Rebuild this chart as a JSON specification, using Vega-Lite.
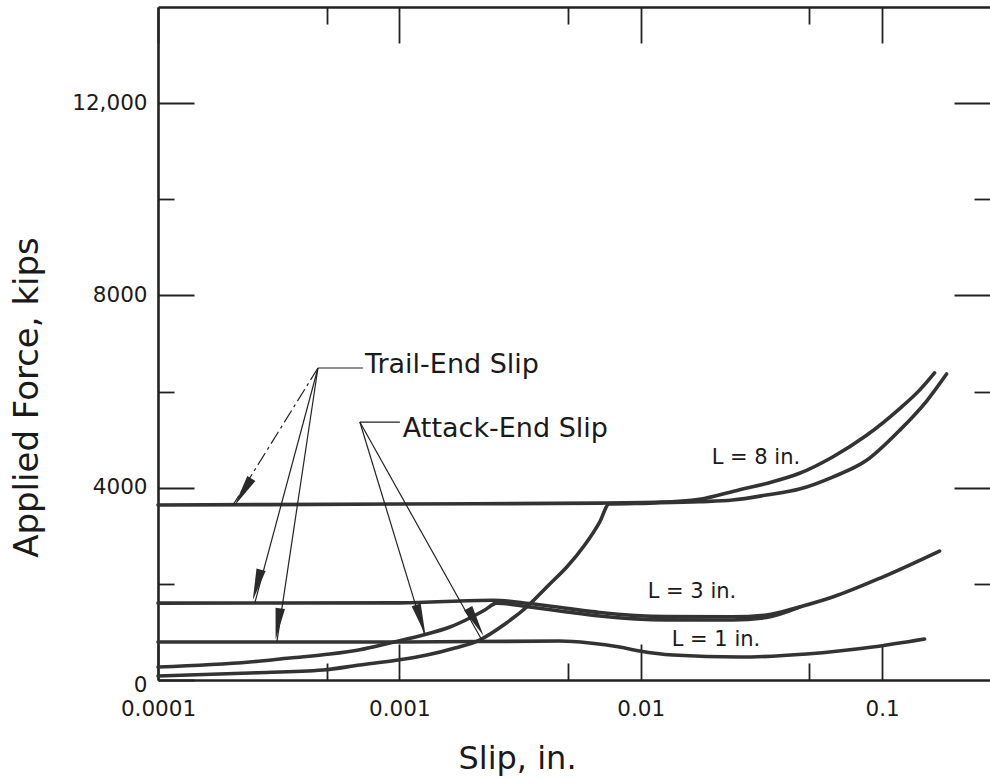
{
  "$schema": "https://vega.github.io/schema/vega-lite/v6.json",
  "width": 832,
  "height": 673,
  "autosize": {"type": "none"},
  "padding": {"left": 158, "top": 7, "right": 0, "bottom": 100},
  "background": "white",
  "config": {
    "view": {"stroke": null},
    "font": "DejaVu Sans",
    "axis": {
      "labelFont": "DejaVu Sans",
      "titleFont": "DejaVu Sans",
      "labelColor": "#1a1a1a",
      "titleColor": "#1a1a1a",
      "titleFontWeight": "normal",
      "tickColor": "#222",
      "tickWidth": 1.8,
      "domainColor": "#222",
      "domainWidth": 2.6,
      "grid": false,
      "labelOverlap": false,
      "labelFlush": false,
      "labelBound": false
    }
  },
  "datasets": {
    "curves": [
      {"series": "L = 8 in. trail", "slip": 0.0001, "force": 3640},
      {"series": "L = 8 in. trail", "slip": 0.001, "force": 3660},
      {"series": "L = 8 in. trail", "slip": 0.0068, "force": 3680},
      {"series": "L = 8 in. trail", "slip": 0.012, "force": 3700},
      {"series": "L = 8 in. trail", "slip": 0.0175, "force": 3760},
      {"series": "L = 8 in. trail", "slip": 0.0257, "force": 3960},
      {"series": "L = 8 in. trail", "slip": 0.0332, "force": 4090},
      {"series": "L = 8 in. trail", "slip": 0.0455, "force": 4300},
      {"series": "L = 8 in. trail", "slip": 0.0624, "force": 4640},
      {"series": "L = 8 in. trail", "slip": 0.0863, "force": 5090},
      {"series": "L = 8 in. trail", "slip": 0.118, "force": 5640},
      {"series": "L = 8 in. trail", "slip": 0.143, "force": 6030},
      {"series": "L = 8 in. trail", "slip": 0.165, "force": 6390},

      {"series": "L = 8 in. attack", "slip": 0.0001, "force": 83},
      {"series": "L = 8 in. attack", "slip": 0.00024, "force": 146},
      {"series": "L = 8 in. attack", "slip": 0.000482, "force": 208},
      {"series": "L = 8 in. attack", "slip": 0.000686, "force": 312},
      {"series": "L = 8 in. attack", "slip": 0.000986, "force": 416},
      {"series": "L = 8 in. attack", "slip": 0.0013, "force": 520},
      {"series": "L = 8 in. attack", "slip": 0.0017, "force": 666},
      {"series": "L = 8 in. attack", "slip": 0.00215, "force": 832},
      {"series": "L = 8 in. attack", "slip": 0.00274, "force": 1165},
      {"series": "L = 8 in. attack", "slip": 0.00337, "force": 1518},
      {"series": "L = 8 in. attack", "slip": 0.0042, "force": 1997},
      {"series": "L = 8 in. attack", "slip": 0.00494, "force": 2350},
      {"series": "L = 8 in. attack", "slip": 0.00586, "force": 2808},
      {"series": "L = 8 in. attack", "slip": 0.00676, "force": 3286},
      {"series": "L = 8 in. attack", "slip": 0.0074, "force": 3660},
      {"series": "L = 8 in. attack", "slip": 0.0109, "force": 3680},
      {"series": "L = 8 in. attack", "slip": 0.0175, "force": 3710},
      {"series": "L = 8 in. attack", "slip": 0.024, "force": 3744},
      {"series": "L = 8 in. attack", "slip": 0.0332, "force": 3848},
      {"series": "L = 8 in. attack", "slip": 0.0455, "force": 3973},
      {"series": "L = 8 in. attack", "slip": 0.0624, "force": 4222},
      {"series": "L = 8 in. attack", "slip": 0.0863, "force": 4570},
      {"series": "L = 8 in. attack", "slip": 0.118, "force": 5190},
      {"series": "L = 8 in. attack", "slip": 0.153, "force": 5803},
      {"series": "L = 8 in. attack", "slip": 0.185, "force": 6365},

      {"series": "L = 3 in. trail", "slip": 0.0001, "force": 1600},
      {"series": "L = 3 in. trail", "slip": 0.001, "force": 1605},
      {"series": "L = 3 in. trail", "slip": 0.00244, "force": 1660},
      {"series": "L = 3 in. trail", "slip": 0.00347, "force": 1590},
      {"series": "L = 3 in. trail", "slip": 0.00494, "force": 1490},
      {"series": "L = 3 in. trail", "slip": 0.00676, "force": 1405},
      {"series": "L = 3 in. trail", "slip": 0.0128, "force": 1320},
      {"series": "L = 3 in. trail", "slip": 0.024, "force": 1315},
      {"series": "L = 3 in. trail", "slip": 0.0332, "force": 1352},
      {"series": "L = 3 in. trail", "slip": 0.0455, "force": 1520},
      {"series": "L = 3 in. trail", "slip": 0.0624, "force": 1726},
      {"series": "L = 3 in. trail", "slip": 0.1005, "force": 2142},
      {"series": "L = 3 in. trail", "slip": 0.173, "force": 2683},

      {"series": "L = 3 in. attack", "slip": 0.0001, "force": 270},
      {"series": "L = 3 in. attack", "slip": 0.00024, "force": 374},
      {"series": "L = 3 in. attack", "slip": 0.000352, "force": 458},
      {"series": "L = 3 in. attack", "slip": 0.000516, "force": 540},
      {"series": "L = 3 in. attack", "slip": 0.000686, "force": 630},
      {"series": "L = 3 in. attack", "slip": 0.000913, "force": 770},
      {"series": "L = 3 in. attack", "slip": 0.0013, "force": 957},
      {"series": "L = 3 in. attack", "slip": 0.00162, "force": 1102},
      {"series": "L = 3 in. attack", "slip": 0.00196, "force": 1290},
      {"series": "L = 3 in. attack", "slip": 0.00226, "force": 1456},
      {"series": "L = 3 in. attack", "slip": 0.00253, "force": 1600},
      {"series": "L = 3 in. attack", "slip": 0.00347, "force": 1518},
      {"series": "L = 3 in. attack", "slip": 0.00494, "force": 1414},
      {"series": "L = 3 in. attack", "slip": 0.00676, "force": 1331},
      {"series": "L = 3 in. attack", "slip": 0.0128, "force": 1250},
      {"series": "L = 3 in. attack", "slip": 0.024, "force": 1248},
      {"series": "L = 3 in. attack", "slip": 0.0332, "force": 1300},
      {"series": "L = 3 in. attack", "slip": 0.0455, "force": 1515},

      {"series": "L = 1 in. trail", "slip": 0.0001, "force": 790},
      {"series": "L = 1 in. trail", "slip": 0.001, "force": 790},
      {"series": "L = 1 in. trail", "slip": 0.00462, "force": 811},
      {"series": "L = 1 in. trail", "slip": 0.00615, "force": 770},
      {"series": "L = 1 in. trail", "slip": 0.00818, "force": 686},
      {"series": "L = 1 in. trail", "slip": 0.0099, "force": 603},
      {"series": "L = 1 in. trail", "slip": 0.0136, "force": 520},
      {"series": "L = 1 in. trail", "slip": 0.0257, "force": 478},
      {"series": "L = 1 in. trail", "slip": 0.0487, "force": 541},
      {"series": "L = 1 in. trail", "slip": 0.0913, "force": 686},
      {"series": "L = 1 in. trail", "slip": 0.15, "force": 853}
    ],
    "leaders": [
      {"leader": "Trail-End Slip underline", "slip": 0.00046, "force": 6490, "slip2": 0.000706, "force2": 6490},
      {"leader": "trail to L = 3 in.", "slip": 0.00046, "force": 6490, "slip2": 0.000252, "force2": 1610},
      {"leader": "trail to L = 1 in.", "slip": 0.00046, "force": 6490, "slip2": 0.000311, "force2": 800},
      {"leader": "Attack-End Slip underline", "slip": 0.000686, "force": 5366, "slip2": 0.001005, "force2": 5366},
      {"leader": "attack to L = 3 in.", "slip": 0.000686, "force": 5366, "slip2": 0.00127, "force2": 960},
      {"leader": "attack to L = 8 in.", "slip": 0.000686, "force": 5366, "slip2": 0.002196, "force2": 832}
    ],
    "dashedLeaders": [
      {"leader": "trail to L = 8 in.", "slip": 0.00046, "force": 6490, "slip2": 0.0002045, "force2": 3640}
    ],
    "heads": [
      {"arrow": "trail to L = 8 in.", "slip": 0.000225, "force": 3910},
      {"arrow": "trail to L = 3 in.", "slip": 0.000257, "force": 1976},
      {"arrow": "trail to L = 1 in.", "slip": 0.000314, "force": 1165},
      {"arrow": "attack to L = 3 in.", "slip": 0.001227, "force": 1248},
      {"arrow": "attack to L = 8 in.", "slip": 0.002074, "force": 1206}
    ],
    "notes": [
      {"text": "Trail-End Slip", "slip": 0.00072, "force": 6386},
      {"text": "Attack-End Slip", "slip": 0.001034, "force": 5054}
    ],
    "curveLabels": [
      {"text": "L = 8 in.", "slip": 0.01968, "force": 4493},
      {"text": "L = 3 in.", "slip": 0.01069, "force": 1706},
      {"text": "L = 1 in.", "slip": 0.01344, "force": 707}
    ]
  },
  "resolve": {"axis": {"x": "independent", "y": "independent"}},
  "layer": [
    {
      "data": {"name": "curves"},
      "mark": {"type": "line", "color": "#333", "strokeWidth": 3.6, "interpolate": "monotone", "strokeCap": "round"},
      "encoding": {
        "x": {
          "field": "slip", "type": "quantitative",
          "scale": {"type": "log", "domain": [0.0001, 0.28], "nice": false},
          "axis": {
            "orient": "bottom",
            "values": [0.0001, 0.0005, 0.001, 0.005, 0.01, 0.05, 0.1],
            "format": "~g",
            "labelExpr": "indexof([0.0001, 0.001, 0.01, 0.1], datum.value) >= 0 ? datum.label : ''",
            "tickSize": {"condition": {"test": "indexof([0.0001, 0.001, 0.01, 0.1], datum.value) >= 0", "value": -36}, "value": -17},
            "labelFontSize": 21.5,
            "labelPadding": 54,
            "title": "Slip, in.",
            "titleFontSize": 32,
            "titleX": 359,
            "titleY": 88,
            "titleAlign": "center",
            "titleBaseline": "alphabetic"
          }
        },
        "y": {
          "field": "force", "type": "quantitative",
          "scale": {"domain": [0, 14000], "nice": false},
          "axis": {
            "orient": "left",
            "values": [0, 2000, 4000, 6000, 8000, 10000, 12000],
            "labelExpr": "datum.value == 12000 ? '12,000' : (datum.value % 4000 == 0 ? toString(datum.value) : '')",
            "tickSize": {"condition": {"test": "datum.value % 4000 == 0", "value": -36}, "value": -16},
            "labelFontSize": 21.5,
            "labelPadding": 47,
            "labelOffset": {"condition": {"test": "datum.value == 0", "value": 5}, "value": 0},
            "title": "Applied Force, kips",
            "titleFontSize": 34,
            "titleAngle": 270,
            "titleX": -121,
            "titleY": 390,
            "titleAlign": "center",
            "titleBaseline": "alphabetic"
          }
        },
        "detail": {"field": "series"}
      }
    },
    {
      "data": {"name": "leaders"},
      "mark": {"type": "rule", "color": "#222", "strokeWidth": 1.2},
      "encoding": {
        "x": {
          "field": "slip", "type": "quantitative",
          "scale": {"type": "log", "domain": [0.0001, 0.28], "nice": false},
          "axis": {
            "orient": "top",
            "values": [0.0001, 0.0005, 0.001, 0.005, 0.01, 0.05, 0.1],
            "labels": false,
            "tickSize": {"condition": {"test": "indexof([0.0001, 0.001, 0.01, 0.1], datum.value) >= 0", "value": -36}, "value": -17},
            "title": null
          }
        },
        "x2": {"field": "slip2"},
        "y": {
          "field": "force", "type": "quantitative",
          "scale": {"domain": [0, 14000], "nice": false},
          "axis": {
            "orient": "right",
            "values": [2000, 4000, 6000, 8000, 10000, 12000],
            "labels": false,
            "domain": false,
            "tickSize": {"condition": {"test": "datum.value % 4000 == 0", "value": -36}, "value": -16},
            "title": null
          }
        },
        "y2": {"field": "force2"}
      }
    },
    {
      "data": {"name": "dashedLeaders"},
      "mark": {"type": "rule", "color": "#222", "strokeWidth": 1.2, "strokeDash": [14, 4, 3, 4]},
      "encoding": {
        "x": {"field": "slip", "type": "quantitative", "scale": {"type": "log", "domain": [0.0001, 0.28], "nice": false}, "axis": null},
        "x2": {"field": "slip2"},
        "y": {"field": "force", "type": "quantitative", "scale": {"domain": [0, 14000], "nice": false}, "axis": null},
        "y2": {"field": "force2"}
      }
    },
    {
      "data": {"name": "heads"},
      "transform": [{"filter": "datum.arrow == 'trail to L = 8 in.'"}],
      "mark": {"type": "point", "filled": true, "color": "#2a2a2a", "opacity": 1, "shape": "M0,-1L0.3,1L-0.3,1Z", "size": 1000, "angle": 211.8},
      "encoding": {
        "x": {"field": "slip", "type": "quantitative", "scale": {"type": "log", "domain": [0.0001, 0.28], "nice": false}, "axis": null},
        "y": {"field": "force", "type": "quantitative", "scale": {"domain": [0, 14000], "nice": false}, "axis": null}
      }
    },
    {
      "data": {"name": "heads"},
      "transform": [{"filter": "datum.arrow == 'trail to L = 3 in.'"}],
      "mark": {"type": "point", "filled": true, "color": "#2a2a2a", "opacity": 1, "shape": "M0,-1L0.3,1L-0.3,1Z", "size": 1000, "angle": 195.2},
      "encoding": {
        "x": {"field": "slip", "type": "quantitative", "scale": {"type": "log", "domain": [0.0001, 0.28], "nice": false}, "axis": null},
        "y": {"field": "force", "type": "quantitative", "scale": {"domain": [0, 14000], "nice": false}, "axis": null}
      }
    },
    {
      "data": {"name": "heads"},
      "transform": [{"filter": "datum.arrow == 'trail to L = 1 in.'"}],
      "mark": {"type": "point", "filled": true, "color": "#2a2a2a", "opacity": 1, "shape": "M0,-1L0.3,1L-0.3,1Z", "size": 1000, "angle": 188.5},
      "encoding": {
        "x": {"field": "slip", "type": "quantitative", "scale": {"type": "log", "domain": [0.0001, 0.28], "nice": false}, "axis": null},
        "y": {"field": "force", "type": "quantitative", "scale": {"domain": [0, 14000], "nice": false}, "axis": null}
      }
    },
    {
      "data": {"name": "heads"},
      "transform": [{"filter": "datum.arrow == 'attack to L = 3 in.'"}],
      "mark": {"type": "point", "filled": true, "color": "#2a2a2a", "opacity": 1, "shape": "M0,-1L0.3,1L-0.3,1Z", "size": 1000, "angle": 162.9},
      "encoding": {
        "x": {"field": "slip", "type": "quantitative", "scale": {"type": "log", "domain": [0.0001, 0.28], "nice": false}, "axis": null},
        "y": {"field": "force", "type": "quantitative", "scale": {"domain": [0, 14000], "nice": false}, "axis": null}
      }
    },
    {
      "data": {"name": "heads"},
      "transform": [{"filter": "datum.arrow == 'attack to L = 8 in.'"}],
      "mark": {"type": "point", "filled": true, "color": "#2a2a2a", "opacity": 1, "shape": "M0,-1L0.3,1L-0.3,1Z", "size": 1000, "angle": 150.8},
      "encoding": {
        "x": {"field": "slip", "type": "quantitative", "scale": {"type": "log", "domain": [0.0001, 0.28], "nice": false}, "axis": null},
        "y": {"field": "force", "type": "quantitative", "scale": {"domain": [0, 14000], "nice": false}, "axis": null}
      }
    },
    {
      "data": {"name": "notes"},
      "mark": {"type": "text", "align": "left", "baseline": "alphabetic", "fontSize": 27, "color": "#1a1a1a"},
      "encoding": {
        "x": {"field": "slip", "type": "quantitative", "scale": {"type": "log", "domain": [0.0001, 0.28], "nice": false}, "axis": null},
        "y": {"field": "force", "type": "quantitative", "scale": {"domain": [0, 14000], "nice": false}, "axis": null},
        "text": {"field": "text"}
      }
    },
    {
      "data": {"name": "curveLabels"},
      "mark": {"type": "text", "align": "left", "baseline": "alphabetic", "fontSize": 21, "color": "#1a1a1a"},
      "encoding": {
        "x": {"field": "slip", "type": "quantitative", "scale": {"type": "log", "domain": [0.0001, 0.28], "nice": false}, "axis": null},
        "y": {"field": "force", "type": "quantitative", "scale": {"domain": [0, 14000], "nice": false}, "axis": null},
        "text": {"field": "text"}
      }
    }
  ]
}
